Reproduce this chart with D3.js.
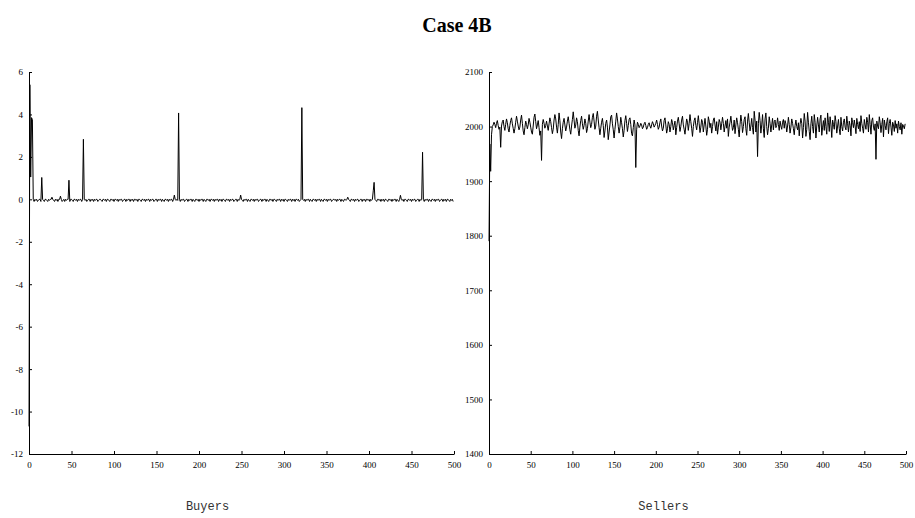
<!DOCTYPE html>
<html>
<head>
<meta charset="utf-8">
<script src="https://cdn.jsdelivr.net/npm/d3@7"></script>
<style>
  html, body { margin: 0; padding: 0; background: #fff; }
  svg { display: block; }
</style>
</head>
<body>
<svg id="chart" width="915" height="518"></svg>
<script>
const title = "Case 4B";
const xLabels = ["Buyers", "Sellers"];
const xTicks = [0, 50, 100, 150, 200, 250, 300, 350, 400, 450, 500];
const buyersTicks = [-12, -10, -8, -6, -4, -2, 0, 2, 4, 6];
const sellersTicks = [1400, 1500, 1600, 1700, 1800, 1900, 2000, 2100];

const buyers = [
  -10.7, 5.4, 1.05, 3.85, 3.75, 0, -0.1, 0, -0.05, 0, -0.1, -0.05, 0, 0, -0.1, 1.03, 0, -0.05, -0.1, 0, 0, -0.05, -0.1, 0, -0.05,
  0, 0, 0.1, 0, -0.05, -0.1, 0, -0.05, 0, -0.1, 0, 0, 0.15, 0, -0.1, -0.05, 0, -0.1, 0, -0.05, 0, 0, 0.9, -0.1, 0,
  0, -0.05, -0.1, 0, 0, -0.05, 0, -0.1, 0, -0.05, 0, 0, -0.1, 0, 2.83, 0, -0.05, 0, -0.1, -0.05, 0, 0, -0.1, 0, -0.05,
  0, -0.1, 0, -0.05, 0, 0, -0.1, -0.05, 0, 0, -0.05, -0.1, 0, 0, -0.05, 0, -0.1, 0, 0, -0.05, -0.1, 0, 0, -0.05, 0,
  -0.1, 0, 0, -0.05, 0, -0.1, 0, -0.05, 0, 0, -0.1, -0.05, 0, 0, -0.1, 0, -0.05, 0, 0, -0.1, 0, -0.05, 0, -0.1, 0,
  0, -0.05, 0, -0.1, 0, 0, -0.05, -0.1, 0, 0, -0.05, 0, -0.1, 0, -0.05, 0, 0, -0.1, 0, -0.05, 0, 0, -0.1, -0.05, 0,
  0, -0.1, 0, -0.05, 0, 0, -0.1, 0, -0.05, -0.1, 0, 0, -0.05, 0, -0.1, 0, -0.05, 0, 0, -0.1, 0, 0.2, 0, -0.05, 0,
  -0.05, 4.07, 0, -0.1, 0, -0.05, 0, 0, -0.1, -0.05, 0, 0, -0.1, 0, -0.05, 0, 0, -0.1, 0, -0.05, -0.1, 0, 0, -0.05, 0,
  -0.1, 0, -0.05, 0, 0, -0.1, 0, -0.05, -0.1, 0, 0, -0.05, 0, -0.1, 0, 0, -0.05, 0, -0.1, 0, -0.05, 0, 0, -0.1, 0,
  -0.05, 0, -0.1, 0, 0, -0.05, -0.1, 0, 0, -0.05, 0, -0.1, 0, -0.05, 0, 0, -0.1, -0.05, 0, 0, -0.1, 0, -0.05, 0, 0.2,
  0, -0.05, -0.1, 0, -0.05, 0, 0, -0.1, 0, -0.05, -0.1, 0, 0, -0.05, 0, -0.1, 0, -0.05, 0, 0, -0.1, -0.05, 0, 0, -0.1,
  0, -0.05, 0, 0, -0.1, 0, -0.05, -0.1, 0, 0, -0.05, 0, -0.1, 0, 0, -0.05, -0.1, 0, -0.05, 0, 0, -0.1, 0, -0.05, 0,
  -0.1, 0, 0, -0.05, -0.1, 0, -0.05, 0, 0, -0.1, 0, -0.05, 0, -0.1, 0, 0, -0.05, 0, -0.1, -0.05, 0, 4.32, 0, -0.05, 0,
  -0.1, 0, -0.05, 0, 0, -0.1, 0, -0.05, -0.1, 0, 0, -0.05, 0, -0.1, 0, -0.05, 0, 0, -0.1, 0, -0.05, -0.1, 0, 0, -0.05,
  0, -0.1, 0, -0.05, 0, 0, -0.1, -0.05, 0, 0, -0.05, 0, -0.1, 0, -0.05, 0, 0, -0.1, 0, -0.05, -0.1, 0, 0, -0.05, 0,
  0.1, 0, -0.05, -0.1, 0, 0, -0.05, 0, -0.1, 0, -0.05, 0, 0, -0.1, -0.05, 0, 0, -0.1, 0, -0.05, 0, -0.1, 0, 0, -0.05,
  0, -0.1, 0, -0.05, 0, 0.4, 0.8, 0, -0.05, -0.1, 0, 0, -0.05, 0, -0.1, 0, -0.05, 0, -0.1, 0, 0, -0.05, -0.1, 0, 0,
  -0.05, 0, -0.1, 0, -0.05, 0, 0, -0.1, 0, -0.05, -0.1, 0, 0.19, 0, -0.05, 0, -0.1, 0, 0, -0.05, -0.1, 0, 0, -0.05, 0,
  -0.1, 0, -0.05, 0, 0, -0.1, -0.05, 0, 0, -0.1, 0, -0.05, 0, 2.22, 0, -0.1, 0, -0.05, 0, 0, -0.1, 0, -0.05, -0.1, 0,
  0, -0.05, 0, -0.1, 0, -0.05, 0, 0, -0.1, -0.05, 0, 0, -0.1, 0, -0.05, 0, -0.1, 0, 0, -0.05, -0.1, 0, -0.05, 0, -0.1
];

const sellers = [
  1790, 1968, 1918, 1985, 2000, 2003, 2008, 2004, 1998, 2006, 2011, 2002, 1995, 1999, 1962, 2001, 2009, 2012, 2000, 1993, 2004, 2014, 2007, 1996, 1990,
  2002, 2011, 2016, 2005, 1997, 1988, 1996, 2008, 2019, 2010, 2001, 1994, 1999, 2012, 2021, 2006, 1992, 1985, 1998, 2010, 2004, 1996, 2003, 2015, 2008,
  1999, 1990, 1986, 2001, 2017, 2023, 2009, 1996, 2003, 2011, 1998, 1984, 1992, 1938, 2004, 2013, 2006, 1997, 2002, 2010, 2001, 1993, 2005, 2016, 2009,
  1998, 1987, 1995, 2012, 2022, 2014, 1999, 1988, 2004, 2025, 2011, 1990, 1978, 1996, 2008, 2015, 2003, 1992, 1999, 2010, 2018, 2006, 1994, 1986, 2001,
  2013, 2027, 2012, 1997, 2003, 2016, 2009, 1993, 1983, 1999, 2011, 2019, 2005, 1995, 2002, 2014, 2006, 1989, 1996, 2010, 2022, 2008, 1998, 2004, 2017,
  2024, 2010, 1995, 2001, 2019, 2028, 2012, 1998, 1985, 1997, 2008, 2015, 2002, 1980, 1992, 2006, 2012, 1999, 1976, 1990, 2003, 2018, 2021, 2005, 1994,
  1979, 1995, 2010, 2025, 2014, 2000, 1988, 1999, 2017, 2007, 1996, 1981, 1993, 2011, 2020, 2006, 1991, 2002, 2013, 2016, 2004, 1987, 1983, 1998, 2012,
  2003, 1925, 1994, 2008, 2004, 1998, 2001, 2006, 2003, 1996, 1999, 2005, 2008, 2002, 1995, 1998, 2004, 2007, 2001, 1997, 2003, 2009, 2005, 1999, 2002,
  2006, 2012, 2004, 1995, 1999, 2008, 2014, 2001, 1992, 1997, 2011, 2016, 2003, 1988, 1996, 2009, 2004, 1990, 2000, 2013, 2007, 1994, 2002, 2010, 1985,
  1998, 2010, 2017, 2005, 1991, 2000, 2012, 2019, 2003, 1995, 1986, 2001, 2014, 2008, 1993, 2006, 2022, 2009, 1997, 1982, 2000, 2011, 2016, 2002, 1994,
  2007, 2020, 2005, 1989, 1999, 2013, 2008, 1990, 2003, 2015, 2001, 1984, 1995, 2018, 2010, 1998, 2006, 1988, 2000, 2012, 2016, 2003, 1992, 2009, 1986,
  1999, 2013, 2008, 1994, 2005, 2017, 2006, 1990, 2001, 2011, 1997, 2014, 1982, 1999, 2008, 2019, 2005, 1993, 1998, 2012, 1987, 2003, 2016, 2007, 1995,
  1981, 2004, 2021, 2009, 1989, 2000, 2013, 2018, 1996, 1984, 2010, 2024, 2007, 1992, 2001, 2015, 1998, 1986, 2028, 2012, 1990, 2010, 1945, 2005, 2026,
  2011, 1988, 2003, 2022, 1996, 1980, 2014, 2025, 2000, 1985, 1997, 2018, 2006, 1990, 2003, 2015, 1994, 2009, 2012, 1998, 2002, 2016, 2004, 1993, 2010,
  2001, 1995, 2008, 2013, 1997, 2011, 2005, 1990, 2001, 2017, 2004, 1988, 1999, 2014, 2006, 1996, 1985, 2002, 2012, 2000, 1994, 2007, 1983, 2004, 2015,
  2006, 1979, 1998, 2024, 2010, 1982, 1995, 2026, 2008, 1991, 1976, 2005, 2019, 2000, 1988, 2022, 2008, 1979, 2001, 2017, 2003, 1990, 2014, 2021, 1984,
  1999, 2011, 1993, 2016, 2000, 1986, 2025, 2008, 1991, 2018, 2003, 1980, 2012, 2004, 1995, 2020, 2009, 1988, 2001, 2013, 1996, 1985, 2017, 2000, 1992,
  2008, 2014, 1999, 1994, 2019, 2005, 1990, 2010, 2002, 1983, 2016, 2007, 1998, 2012, 2001, 1987, 2015, 2004, 1996, 2009, 1991, 2020, 2006, 1997, 1988,
  2013, 2003, 1995, 2017, 2008, 1990, 2022, 2004, 1986, 2011, 2016, 1999, 1993, 2005, 1940, 2010, 2001, 1996, 2018, 2007, 1989, 2004, 2015, 1981, 2012,
  2002, 1994, 2009, 2016, 1987, 2006, 2013, 1999, 1984, 2008, 2003, 1991, 2011, 1997, 2005, 1988, 2010, 2000, 1994, 2007, 1986, 2004, 2001, 1996, 2005
];

const svg = d3.select("#chart");
const serif = "'Liberation Serif', 'Times New Roman', Times, serif";
const plainFormat = d => String(d);

svg.append("text")
  .attr("x", 457).attr("y", 32)
  .attr("text-anchor", "middle")
  .style("font-family", serif)
  .attr("font-weight", "bold")
  .attr("font-size", 20)
  .attr("fill", "#000")
  .text(title);

const panels = [
  { data: buyers, yDomain: [-12, 6], yTicks: buyersTicks, x0: 29, x1: 454, label: xLabels[0] },
  { data: sellers, yDomain: [1400, 2100], yTicks: sellersTicks, x0: 489, x1: 906, label: xLabels[1] }
];
const yTop = 72, yBottom = 454;

panels.forEach(p => {
  const x = d3.scaleLinear().domain([0, 500]).range([p.x0, p.x1]);
  const y = d3.scaleLinear().domain(p.yDomain).range([yBottom, yTop]);
  const g = svg.append("g");

  const yAxis = g.append("g")
    .attr("transform", `translate(${p.x0},0)`)
    .call(d3.axisLeft(y).tickValues(p.yTicks).tickFormat(plainFormat)
      .tickSizeInner(-3).tickSizeOuter(0).tickPadding(6));
  const xAxis = g.append("g")
    .attr("transform", `translate(0,${yBottom})`)
    .call(d3.axisBottom(x).tickValues(xTicks).tickFormat(plainFormat)
      .tickSizeInner(-3).tickSizeOuter(0).tickPadding(8));

  [yAxis, xAxis].forEach(a => {
    a.attr("font-family", null);
    a.selectAll("path, line").attr("stroke", "#000").attr("stroke-width", 1);
    a.selectAll("text")
      .style("font-family", serif)
      .attr("font-size", 9)
      .attr("fill", "#000");
  });

  const line = d3.line()
    .x((d, i) => x(i))
    .y(d => y(d));
  g.append("path")
    .datum(p.data)
    .attr("d", line)
    .attr("fill", "none")
    .attr("stroke", "#000")
    .attr("stroke-width", 1)
    .attr("stroke-linejoin", "miter");

  g.append("text")
    .attr("x", (p.x0 + p.x1) / 2 - 34)
    .attr("y", 510)
    .attr("text-anchor", "middle")
    .style("font-family", "'Liberation Mono', 'Courier New', monospace")
    .attr("font-size", 12)
    .attr("fill", "#333")
    .text(p.label);
});
</script>
</body>
</html>
